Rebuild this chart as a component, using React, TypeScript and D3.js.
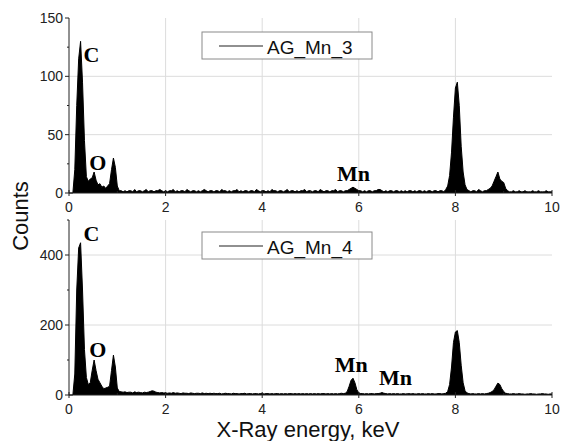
import React from "react";
import * as d3 from "d3";

// channel width (keV) — counts below are per channel starting at 0 keV
const CHANNEL_KEV = 0.04;

const countsMn3: number[] = [
  0, 0, 0, 20, 75, 115, 130, 95, 45, 14, 10, 12, 13, 18, 11, 7, 8, 5, 6, 4, 6, 8, 20, 30, 22,
  6, 2, 2, 1, 2, 1, 2, 2, 1, 3, 1, 2, 2, 1, 2, 3, 1, 2, 2, 1, 2, 2, 3, 2, 1,
  2, 1, 2, 2, 3, 1, 2, 1, 2, 2, 1, 3, 2, 1, 2, 2, 1, 2, 1, 2, 3, 2, 1, 2, 2,
  1, 2, 2, 1, 3, 2, 2, 1, 2, 1, 2, 2, 3, 1, 2, 1, 2, 2, 1, 2, 2, 1, 3, 2, 1,
  2, 2, 1, 2, 1, 3, 2, 2, 1, 2, 2, 1, 2, 3, 1, 2, 2, 1, 2, 1, 2, 2, 3, 1, 2,
  2, 1, 2, 2, 1, 3, 2, 1, 2, 2, 1, 2, 2, 3, 1, 2, 2, 1, 2, 2, 3, 4, 5, 4, 3,
  2, 2, 1, 2, 1, 2, 2, 1, 2, 2, 3, 3, 2, 1, 2, 1, 2, 2, 1, 2, 2, 1, 2, 1, 2,
  1, 2, 2, 1, 2, 1, 2, 2, 1, 2, 1, 2, 2, 1, 2, 2, 1, 2, 2, 1, 3, 6, 15, 35, 65,
  90, 95, 75, 40, 18, 7, 3, 2, 1, 2, 2, 1, 3, 2, 1, 2, 2, 3, 4, 6, 10, 14, 18, 12, 10,
  9, 4, 2, 1, 1, 2, 1, 1, 2, 1, 1, 2, 1, 1, 1, 2, 1, 1, 2, 1, 1, 1, 2, 1, 1,
  1,
];

const countsMn4: number[] = [
  0, 0, 0, 60, 300, 420, 435, 300, 130, 50, 30, 35, 70, 100, 70, 45, 35, 25, 18, 20, 22, 25, 70, 114, 80,
  20, 10, 9, 8, 9, 7, 8, 8, 6, 9, 7, 8, 7, 6, 8, 7, 8, 10, 12, 11, 8, 7, 6, 7, 6,
  6, 5, 6, 5, 7, 5, 6, 5, 4, 6, 5, 5, 4, 6, 5, 4, 5, 5, 4, 6, 4, 5, 4, 5, 4,
  5, 4, 4, 5, 3, 4, 5, 4, 4, 3, 5, 4, 4, 3, 4, 4, 5, 3, 4, 4, 3, 4, 4, 3, 4,
  4, 3, 4, 4, 3, 4, 3, 4, 4, 3, 4, 3, 4, 3, 4, 4, 3, 4, 3, 4, 3, 4, 3, 4, 3,
  4, 3, 4, 3, 4, 3, 4, 4, 3, 4, 3, 4, 3, 4, 3, 4, 5, 4, 5, 10, 25, 42, 48, 35, 15,
  6, 4, 4, 3, 4, 3, 4, 4, 3, 4, 4, 5, 7, 5, 4, 3, 4, 3, 4, 3, 4, 3, 3, 4, 3,
  3, 4, 3, 4, 3, 3, 4, 3, 4, 3, 3, 4, 3, 4, 3, 3, 4, 4, 3, 4, 5, 10, 30, 80, 150,
  180, 184, 150, 85, 35, 12, 6, 4, 3, 4, 3, 3, 4, 3, 4, 3, 4, 5, 7, 10, 15, 25, 34, 30, 18,
  10, 5, 4, 3, 3, 4, 3, 3, 4, 3, 3, 2, 3, 3, 4, 3, 3, 2, 3, 3, 4, 3, 3, 2, 3,
  3,
];

const xMajorTicks = [0, 2, 4, 6, 8, 10];
const xMinorTicks = [1, 3, 5, 7, 9];
const xGridTicks = [2, 4, 6, 8];

const topYMajor = [0, 50, 100, 150];
const topYMinor = [25, 75, 125];
const topYGrid = [50, 100];
const botYMajor = [0, 200, 400];
const botYMinor = [100, 300, 500];
const botYGrid = [200, 400];

const seriesNames = ["AG_Mn_3", "AG_Mn_4"];

type Label = { text: string; x: number; y: number };
const topLabels: Label[] = [
  { text: "C", x: 0.3, y: 112 },
  { text: "O", x: 0.42, y: 20 },
  { text: "Mn", x: 5.55, y: 10 },
];
const botLabels: Label[] = [
  { text: "C", x: 0.3, y: 440 },
  { text: "O", x: 0.42, y: 110 },
  { text: "Mn", x: 5.5, y: 65 },
  { text: "Mn", x: 6.42, y: 30 },
];

const X0 = 69;
const X1 = 552;
const AXIS_FONT = "Arial, 'Liberation Sans', sans-serif";
const SERIF = "'Times New Roman', 'Liberation Serif', serif";

const x = d3.scaleLinear().domain([0, 10]).range([X0, X1]);

type PanelProps = {
  counts: number[];
  yDomain: [number, number];
  yRange: [number, number];
  yMajor: number[];
  yMinor: number[];
  yGrid: number[];
  name: string;
  legendY: number;
  labels: Label[];
};

function Panel(p: PanelProps) {
  const y = d3.scaleLinear().domain(p.yDomain).range(p.yRange);
  const data = p.counts.map((c, i) => [i * CHANNEL_KEV, c] as [number, number]);
  const area = d3
    .area<[number, number]>()
    .x((d) => x(d[0]))
    .y0(y(0))
    .y1((d) => y(d[1]));
  const line = d3
    .line<[number, number]>()
    .x((d) => x(d[0]))
    .y((d) => y(d[1]));
  const yb = p.yRange[0];
  const yt = p.yRange[1];
  const axisColor = "#222";
  return (
    <g>
      {xGridTicks.map((t) => (
        <line key={"gx" + t} x1={x(t)} x2={x(t)} y1={yt} y2={yb} stroke="#dcdcdc" strokeWidth={1} />
      ))}
      {p.yGrid.map((t) => (
        <line key={"gy" + t} x1={X0} x2={X1} y1={y(t)} y2={y(t)} stroke="#dcdcdc" strokeWidth={1} />
      ))}
      <path d={area(data) || ""} fill="#000" />
      <path d={line(data) || ""} fill="none" stroke="#000" strokeWidth={1} />
      {/* axes */}
      <line x1={X0} x2={X0} y1={yt} y2={yb} stroke={axisColor} strokeWidth={1} />
      <line x1={X0} x2={X1} y1={yb} y2={yb} stroke={axisColor} strokeWidth={1} />
      {p.yMajor.map((t) => (
        <g key={"ym" + t}>
          <line x1={X0 - 4} x2={X0} y1={y(t)} y2={y(t)} stroke={axisColor} />
          <text x={X0 - 6} y={y(t)} dy="0.36em" textAnchor="end" fontSize={14} fontFamily={AXIS_FONT} fill="#222">
            {t}
          </text>
        </g>
      ))}
      {p.yMinor.map((t) => (
        <line key={"yn" + t} x1={X0 - 2} x2={X0} y1={y(t)} y2={y(t)} stroke={axisColor} />
      ))}
      {xMajorTicks.map((t) => (
        <g key={"xm" + t}>
          <line x1={x(t)} x2={x(t)} y1={yb - 3} y2={yb + 3} stroke={axisColor} />
          <text x={x(t)} y={yb + 19} textAnchor="middle" fontSize={14} fontFamily={AXIS_FONT} fill="#222">
            {t}
          </text>
        </g>
      ))}
      {xMinorTicks.map((t) => (
        <line key={"xn" + t} x1={x(t)} x2={x(t)} y1={yb - 2} y2={yb} stroke={axisColor} />
      ))}
      {/* legend */}
      <rect x={202} y={p.legendY} width={170} height={27} fill="#fff" stroke="#8a8a8a" strokeWidth={1} />
      <line x1={219} x2={263} y1={p.legendY + 14} y2={p.legendY + 14} stroke="#222" strokeWidth={1.2} />
      <text x={267} y={p.legendY + 22} fontSize={19} fontFamily={AXIS_FONT} fill="#111">
        {p.name}
      </text>
      {p.labels.map((l, i) => (
        <text key={"lb" + i} x={x(l.x)} y={y(l.y)} fontSize={22} fontWeight="bold" fontFamily={SERIF} fill="#000">
          {l.text}
        </text>
      ))}
    </g>
  );
}

export default function App() {
  return (
    <svg
      width={561}
      height={441}
      style={{ position: "absolute", left: 0, top: 0, display: "block", background: "#fff" }}
    >
      <rect x={0} y={0} width={561} height={441} fill="#fff" />
      <Panel
        counts={countsMn3}
        yDomain={[0, 150]}
        yRange={[193, 18]}
        yMajor={topYMajor}
        yMinor={topYMinor}
        yGrid={topYGrid}
        name={seriesNames[0]}
        legendY={32}
        labels={topLabels}
      />
      <Panel
        counts={countsMn4}
        yDomain={[0, 500]}
        yRange={[395, 220]}
        yMajor={botYMajor}
        yMinor={botYMinor}
        yGrid={botYGrid}
        name={seriesNames[1]}
        legendY={232}
        labels={botLabels}
      />
      <text
        transform="translate(28,216) rotate(-90)"
        textAnchor="middle"
        fontSize={22}
        fontFamily={AXIS_FONT}
        fill="#111"
      >
        Counts
      </text>
      <text x={308} y={437} textAnchor="middle" fontSize={22} fontFamily={AXIS_FONT} fill="#111">
        X-Ray energy, keV
      </text>
    </svg>
  );
}
